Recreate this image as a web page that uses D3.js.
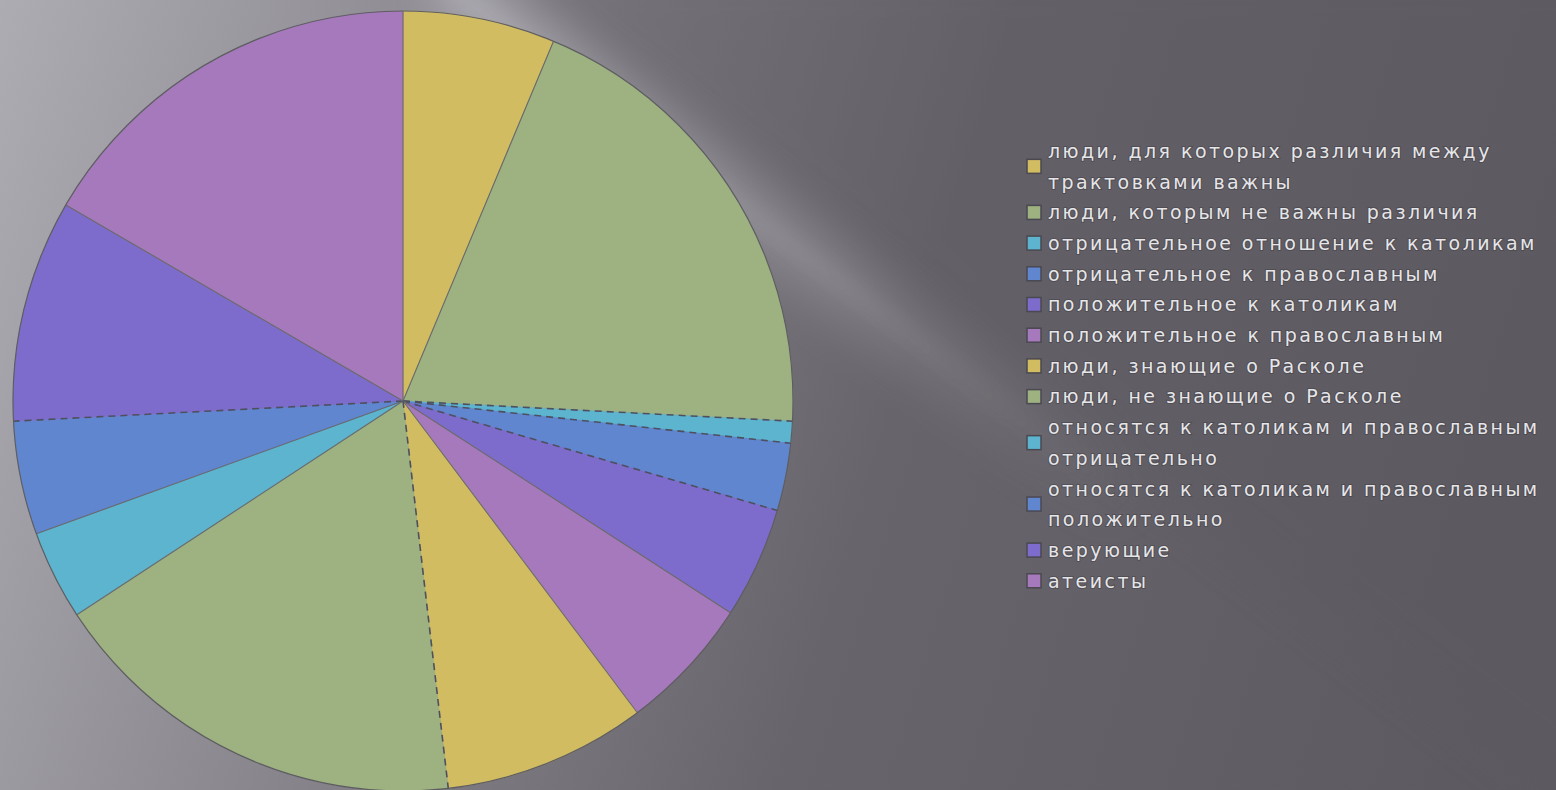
<!DOCTYPE html>
<html>
<head>
<meta charset="utf-8">
<script src="https://cdn.jsdelivr.net/npm/d3@7"></script>
<style>
  html, body { margin: 0; padding: 0; overflow: hidden; background: #66636a; }
  text { font-family: "DejaVu Sans", sans-serif; }
</style>
</head>
<body>
<svg id="chart" width="1556" height="790"></svg>
<script>
// categories (legend order = slice order, clockwise from 12 o'clock)
var labels = [
  ["люди, для которых различия между", "трактовками важны"],
  ["люди, которым не важны различия"],
  ["отрицательное отношение к католикам"],
  ["отрицательное к православным"],
  ["положительное к католикам"],
  ["положительное к православным"],
  ["люди, знающие о Расколе"],
  ["люди, не знающие о Расколе"],
  ["относятся к католикам и православным", "отрицательно"],
  ["относятся к католикам и православным", "положительно"],
  ["верующие"],
  ["атеисты"]
];
// shares in percent
var values = [6.3, 19.5, 0.9, 2.8, 4.6, 5.6, 8.4, 17.6, 3.7, 4.7, 9.2, 16.6];
var colors = ["#d1bc62", "#9db181", "#5cb4cf", "#6086d0", "#7d6ccb", "#a679bd",
              "#d1bc62", "#9db181", "#5cb4cf", "#6086d0", "#7d6ccb", "#a679bd"];
// boundaries (start of slice i) that are drawn dashed in the original
var dashedEdges = [2, 3, 4, 7, 10];

var W = 1556, H = 790;
var cx = 403, cy = 401, R = 390;

var svg = d3.select("#chart");
var defs = svg.append("defs");

// background: grey gradient plus a soft diagonal light streak
var bg = defs.append("linearGradient").attr("id", "bg")
  .attr("gradientUnits", "userSpaceOnUse")
  .attr("x1", 0).attr("y1", 0).attr("x2", W).attr("y2", H * 0.6);
bg.append("stop").attr("offset", 0).attr("stop-color", "#aeacb3");
bg.append("stop").attr("offset", 0.3).attr("stop-color", "#88858c");
bg.append("stop").attr("offset", 0.6).attr("stop-color", "#67646b");
bg.append("stop").attr("offset", 1).attr("stop-color", "#5d5a61");

var streakGrad = defs.append("linearGradient").attr("id", "streak")
  .attr("gradientUnits", "userSpaceOnUse")
  .attr("x1", 440).attr("y1", -20).attr("x2", 1150).attr("y2", 520);
streakGrad.append("stop").attr("offset", 0).attr("stop-color", "#c2c0c7").attr("stop-opacity", 0.8);
streakGrad.append("stop").attr("offset", 0.55).attr("stop-color", "#aeacb3").attr("stop-opacity", 0.5);
streakGrad.append("stop").attr("offset", 1).attr("stop-color", "#8a878e").attr("stop-opacity", 0);

defs.append("filter").attr("id", "blur")
  .attr("x", "-50%").attr("y", "-50%").attr("width", "200%").attr("height", "200%")
  .append("feGaussianBlur").attr("stdDeviation", 24);
defs.append("filter").attr("id", "blur2")
  .attr("x", "-50%").attr("y", "-50%").attr("width", "200%").attr("height", "200%")
  .append("feGaussianBlur").attr("stdDeviation", 10);

svg.append("rect").attr("width", W).attr("height", H).attr("fill", "url(#bg)");
// darker upper-right wedge above the streak
svg.append("path")
  .attr("d", "M470,-40 L1700,-40 L1700,900 Z")
  .attr("fill", "#5c5960").attr("opacity", 0.35).attr("filter", "url(#blur)");
// the light streak
svg.append("line")
  .attr("x1", 440).attr("y1", -20).attr("x2", 1150).attr("y2", 520)
  .attr("stroke", "url(#streak)").attr("stroke-width", 60).attr("opacity", 0.7)
  .attr("filter", "url(#blur)");
svg.append("line")
  .attr("x1", 440).attr("y1", -20).attr("x2", 1100).attr("y2", 480)
  .attr("stroke", "url(#streak)").attr("stroke-width", 14).attr("opacity", 0.45)
  .attr("filter", "url(#blur2)");

// pie
var pie = d3.pie().sort(null).value(function(d) { return d; });
var arcs = pie(values);
var arc = d3.arc().innerRadius(0).outerRadius(R);

var g = svg.append("g").attr("transform", "translate(" + cx + "," + cy + ")");

g.selectAll("path.slice")
  .data(arcs)
  .enter()
  .append("path")
  .attr("class", "slice")
  .attr("d", arc)
  .attr("fill", function(d, i) { return colors[i]; })
  .attr("stroke", function(d, i) { return colors[i]; })
  .attr("stroke-width", 0.5);

// radial edges, some dashed
g.selectAll("line.edge")
  .data(arcs)
  .enter()
  .append("line")
  .attr("class", "edge")
  .attr("x1", 0).attr("y1", 0)
  .attr("x2", function(d) { return R * Math.sin(d.startAngle); })
  .attr("y2", function(d) { return -R * Math.cos(d.startAngle); })
  .attr("stroke", function(d, i) { return dashedEdges.indexOf(i) >= 0 ? "#4e5060" : "#6a6a6a"; })
  .attr("stroke-width", function(d, i) { return dashedEdges.indexOf(i) >= 0 ? 1.6 : 1.1; })
  .attr("stroke-dasharray", function(d, i) { return dashedEdges.indexOf(i) >= 0 ? "7,5" : null; });

g.append("circle").attr("r", R)
  .attr("fill", "none").attr("stroke", "#5e5e62").attr("stroke-width", 1.2);

// legend
var lx = 1027, lineH = 30.7, top0 = 151;
var legend = svg.append("g");
var row = 0;
labels.forEach(function(lines, i) {
  var yMid = top0 + (row + (lines.length - 1) / 2) * lineH;
  legend.append("rect")
    .attr("x", lx).attr("y", yMid - 7)
    .attr("width", 14).attr("height", 14)
    .attr("fill", colors[i])
    .attr("stroke", "#4a4850").attr("stroke-width", 1.5);
  lines.forEach(function(t, k) {
    legend.append("text")
      .attr("x", lx + 21)
      .attr("y", top0 + (row + k) * lineH)
      .attr("dy", "0.36em")
      .attr("font-size", 19)
      .attr("letter-spacing", 2.45)
      .attr("fill", "#e6e6e8")
      .attr("stroke", "#3c3a40").attr("stroke-width", 2).attr("stroke-opacity", 0.45)
      .attr("paint-order", "stroke")
      .text(t);
  });
  row += lines.length;
});
</script>
</body>
</html>
